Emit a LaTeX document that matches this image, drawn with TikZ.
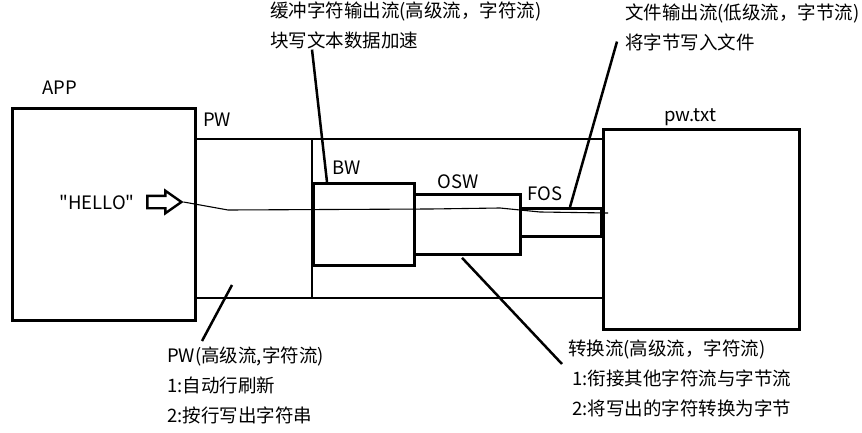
\documentclass[tikz,border=0pt]{standalone}
\usepackage{fontspec}
\setmainfont{Noto Sans CJK SC}
\newfontfamily\plainfont{Noto Sans CJK SC}
\usetikzlibrary{positioning,calc,shapes.arrows}

\begin{document}
\begin{tikzpicture}[
  x=1pt, y=-1pt,
  font=\fontsize{18.5}{30}\selectfont,
  box/.style={draw, line width=2.8pt, inner sep=0pt, anchor=north west},
  pipe/.style={line width=2.3pt},
  lead/.style={line width=2.5pt},
  wire/.style={line width=1.1pt},
  tag/.style={inner sep=0pt},
  note/.style={align=left, anchor=north west, inner sep=0pt},
  push/.style={draw, line width=2.4pt, single arrow, single arrow tip angle=70,
    single arrow head extend=5pt, inner sep=5pt, minimum height=34pt}
]
\useasboundingbox[fill=white] (0,0) rectangle (862,433);
\node[box, minimum width=183, minimum height=212] (app) at (11,107) {};
\node[box, minimum width=196, minimum height=200] (file) at (602,128) {};
\node[box, minimum width=101, minimum height=82] (bw) at (312,182) {};
\node[box, minimum width=106, minimum height=60] (osw) at (413,193) {};
\node[box, minimum width=81, minimum height=28] (fos) at (519,207) {};
\node[tag] (applbl) at (60,88) {APP};
\node[tag] (pwlbl) at (217,120) {PW};
\node[tag] (bwlbl) at (347,168) {BW};
\node[tag] (oswlbl) at (458,182) {OSW};
\node[tag] (foslbl) at (545,194) {FOS};
\node[tag] (filelbl) at (690,117) {pw.txt};
\coordinate (pwtop) at (0,139);
\coordinate (pwbot) at (0,298);
\draw[pipe] (app.east |- pwtop) -- (file.west |- pwtop);
\draw[pipe] (app.east |- pwbot) -- (file.west |- pwbot);
\draw[pipe] (bw.west |- pwtop) -- (bw.west |- pwbot);
\node[tag, font=\plainfont\fontsize{18.5}{30}\selectfont] (hello) at (97,202) {"HELLO"};
\node[push] (arrow) at (160,202) {};
\coordinate (wireend) at (608,213);
\draw[wire] (arrow.tip) -- (228,210) -- (430,209) -- (500,208) -- (540,212) -- (wireend);
\node[note] (bwnote) at (270,2) {缓冲字符输出流(高级流，字符流)\\块写文本数据加速};
\node[note] (fosnote) at (625,4) {文件输出流(低级流，字节流)\\将字节写入文件};
\node[note] (pwnote) at (167,347) {PW(高级流,字符流)\\1:自动行刷新\\2:按行写出字符串};
\node[note] (oswnote) at (568,340) {转换流(高级流，字符流)\\\hspace{4pt}1:衔接其他字符流与字节流\\\hspace{4pt}2:将写出的字符转换为字节};
\coordinate (pwpin) at (232,285);
\draw[lead] ([xshift=42pt]bwnote.south west) -- ($(bw.north west)+(15,0)$);
\draw[lead] ($(fosnote.south west)+(-8,-10)$) -- ($(fos.north west)+(51,0)$);
\draw[lead] (pwpin) -- ($(pwnote.north west)+(35,-6)$);
\draw[lead] ($(osw.south west)+(49,2)$) -- ($(oswnote.north west)+(-6,24)$);
\end{tikzpicture}
\end{document}
